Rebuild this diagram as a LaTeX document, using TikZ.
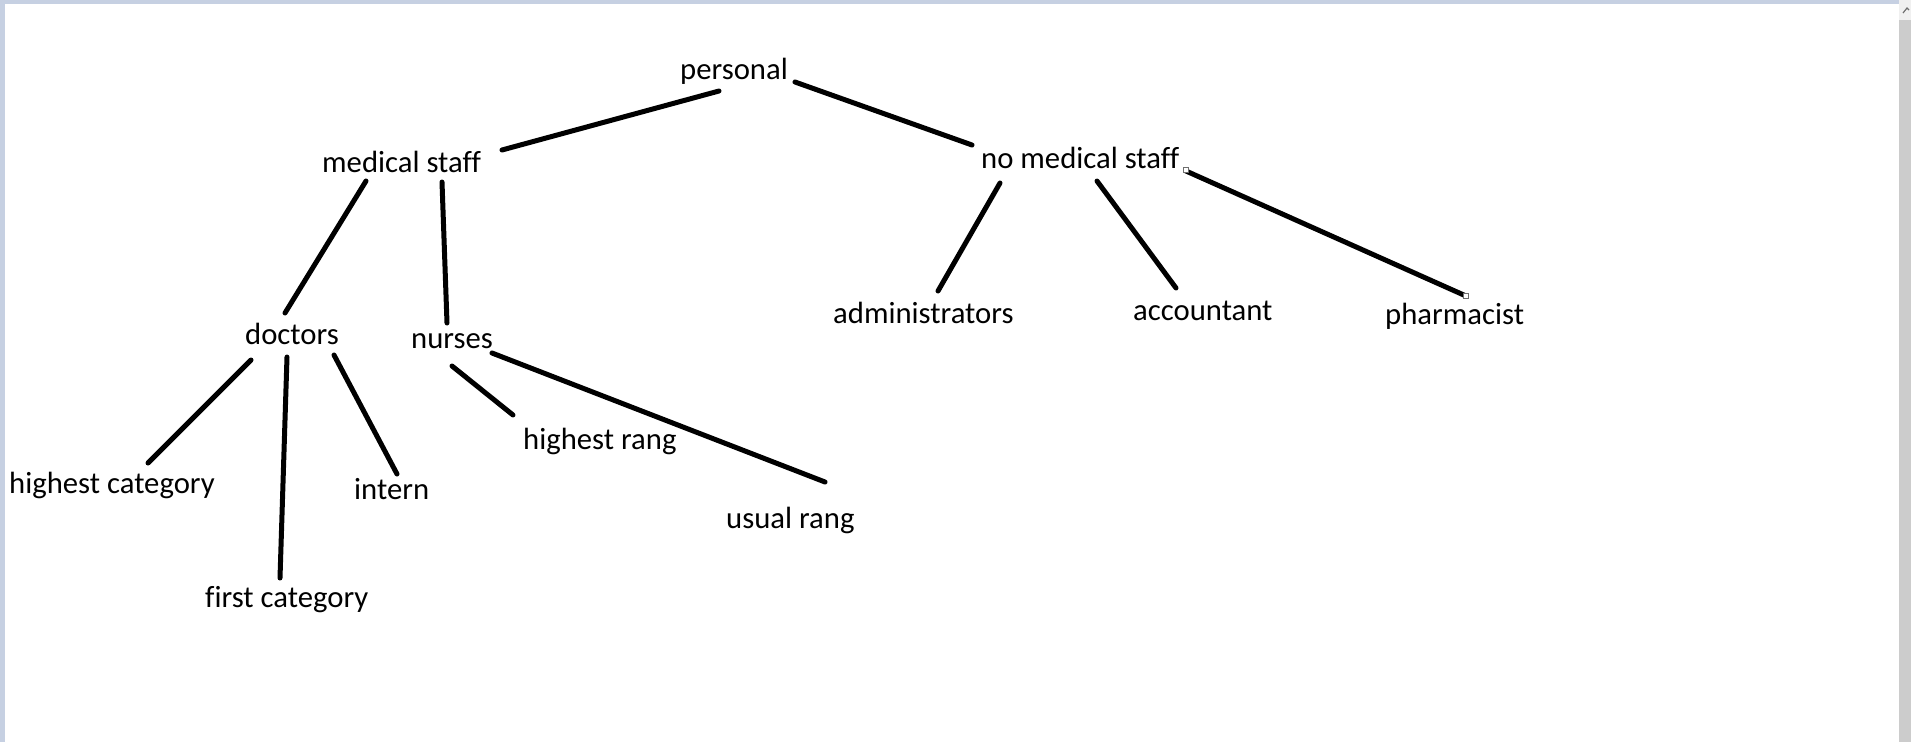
\documentclass[tikz,border=0pt]{standalone}
\usepackage{fontspec}
\setmainfont{Carlito}[Ligatures=NoCommon]
\definecolor{frameblue}{RGB}{198,208,226}
\definecolor{scrollgray}{RGB}{204,204,204}
\definecolor{scrolltop}{RGB}{240,240,240}
\definecolor{handle}{RGB}{110,110,110}
\begin{document}
\begin{tikzpicture}[x=1pt,y=-1pt,
  lbl/.style={inner sep=0pt,anchor=base west,font=\fontsize{30.7}{36}\selectfont},
  edge/.style={line width=5pt,line cap=round,black},
  hnd/.style={draw=handle,fill=white,line width=0.8pt,minimum size=5pt,inner sep=0pt}]
% window frame
\fill[white] (0,0) rectangle (1911,742);
\useasboundingbox (0,0) rectangle (1911,742);
\fill[frameblue] (0,0) rectangle (1899,4);
\fill[frameblue] (0,0) rectangle (5,742);
\fill[scrollgray] (1899,0) rectangle (1911,742);
\fill[scrolltop] (1899,0) rectangle (1911,20);
\draw[handle,line width=1.2pt] (1903,13) -- (1907,8) -- (1909,10);
% labels
\node[lbl] (personal)  at (680,79)  {personal};
\node[lbl] (medical)   at (322,172) {medical staff};
\node[lbl] (nomed)     at (981,168) {no medical staff};
\node[lbl] (doctors)   at (245,344) {doctors};
\node[lbl] (nurses)    at (411,348) {nurses};
\node[lbl] (admin)     at (833,323) {administrators};
\node[lbl] (acc)       at (1133,320) {accountant};
\node[lbl] (pharm)     at (1385,324) {pharmacist};
\node[lbl] (highcat)   at (9,493)   {highest category};
\node[lbl] (firstcat)  at (205,607) {first category};
\node[lbl] (intern)    at (354,499) {intern};
\node[lbl] (highrang)  at (523,449) {highest rang};
\node[lbl] (usualrang) at (726,528) {usual rang};
% connectors
\draw[edge] ([shift={(39,12)}]personal.base west) -- ([shift={(180,-22)}]medical.base west);
\draw[edge] ([shift={(115,3)}]personal.base west) -- ([shift={(-9,-23)}]nomed.base west);
\draw[edge] ([shift={(44,9)}]medical.base west) -- ([shift={(40,-31)}]doctors.base west);
\draw[edge] ([shift={(120,10)}]medical.base west) -- ([shift={(36,-25)}]nurses.base west);
\draw[edge] ([shift={(19,15)}]nomed.base west) -- ([shift={(105,-32)}]admin.base west);
\draw[edge] ([shift={(116,13)}]nomed.base west) -- ([shift={(43,-32)}]acc.base west);
\draw[edge] ([shift={(205,3)}]nomed.base west) -- ([shift={(81,-28)}]pharm.base west);
\draw[edge] ([shift={(6,16)}]doctors.base west) -- ([shift={(139,-30)}]highcat.base west);
\draw[edge] ([shift={(42,13)}]doctors.base west) -- ([shift={(75,-29)}]firstcat.base west);
\draw[edge] ([shift={(89,11)}]doctors.base west) -- ([shift={(43,-25)}]intern.base west);
\draw[edge] ([shift={(41,18)}]nurses.base west) -- ([shift={(-10,-34)}]highrang.base west);
\draw[edge] ([shift={(81,5)}]nurses.base west) -- ([shift={(99,-46)}]usualrang.base west);
% selection handles on the pharmacist line
\node[hnd] (h1) at ([shift={(205,2)}]nomed.base west) {};
\node[hnd] (h2) at ([shift={(81,-28)}]pharm.base west) {};
\end{tikzpicture}
\end{document}
